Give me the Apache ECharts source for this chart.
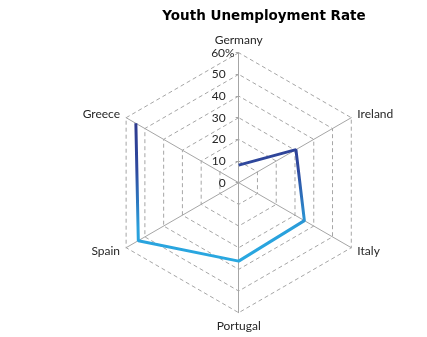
<!DOCTYPE html>
<html>
<head>
<meta charset="utf-8">
<style>
  html, body { margin: 0; padding: 0; background: #ffffff; }
  #chart { width: 427px; height: 337px; }
</style>
<script src="https://cdn.jsdelivr.net/npm/echarts@6/dist/echarts.min.js"></script>
</head>
<body>
<div id="chart"></div>
<script>
// Youth unemployment rate by country (%), clockwise from the top
const countries = ['Germany', 'Ireland', 'Italy', 'Portugal', 'Spain', 'Greece'];
const rates = [8.1, 30.5, 35.0, 36.2, 53.5, 54.8];
const tickValues = [0, 10, 20, 30, 40, 50, 60];

const AXIS_MAX = 60;
const CENTER = [238.7, 182.7];
const RADIUS = 130;
const GRID_COLOR = '#a6a6a6';
const TEXT_COLOR = '#262626';
const FONT = 'Lato, "Open Sans", sans-serif';

// The radar grid lays its indicators out counter-clockwise, so feed them
// in reverse (keeping the first one at the top) to read clockwise.
const radarOrder = [countries[0]].concat(countries.slice(1).reverse());

// Open path: country index used as the angle coordinate, no closing segment
const lineData = rates.map((v, i) => [v, i]);

const chart = echarts.init(document.getElementById('chart'), null, { renderer: 'canvas' });

chart.setOption({
  animation: false,
  backgroundColor: '#ffffff',
  title: {
    text: 'Youth Unemployment Rate',
    left: 259,
    top: 4,
    textAlign: 'center',
    textStyle: { fontFamily: '"DejaVu Sans", sans-serif', fontSize: 13.5, fontWeight: 'bold', color: '#000000' }
  },
  radar: {
    center: CENTER,
    radius: RADIUS,
    startAngle: 90,
    shape: 'polygon',
    splitNumber: tickValues.length - 1,
    indicator: radarOrder.map(name => ({ name: name, min: 0, max: AXIS_MAX })),
    nameGap: 7,
    axisName: { color: TEXT_COLOR, fontFamily: FONT, fontSize: 12 },
    axisLine: { lineStyle: { color: GRID_COLOR, width: 1 } },
    splitLine: { lineStyle: { color: GRID_COLOR, width: 1, type: [4, 3] } },
    splitArea: { show: false },
    axisTick: { show: false },
    axisLabel: { show: false }
  },
  polar: { center: CENTER, radius: RADIUS },
  angleAxis: {
    type: 'value',
    min: 0,
    max: countries.length,
    startAngle: 90,
    clockwise: true,
    show: false
  },
  radiusAxis: {
    type: 'value',
    min: tickValues[0],
    max: tickValues[tickValues.length - 1],
    interval: 10,
    axisLine: { show: false },
    axisTick: { show: true, length: 3, lineStyle: { color: GRID_COLOR } },
    splitLine: { show: false },
    axisLabel: {
      show: true,
      margin: 4,
      fontFamily: FONT,
      fontSize: 12,
      color: TEXT_COLOR,
      formatter: v => v === AXIS_MAX ? v + '{pct|%}' : v + '{gap|}',
      rich: {
        pct: { fontFamily: FONT, fontSize: 12, color: TEXT_COLOR },
        gap: { width: 9 }
      }
    }
  },
  series: [{
    type: 'line',
    coordinateSystem: 'polar',
    data: lineData,
    symbol: 'none',
    lineStyle: {
      width: 3,
      color: new echarts.graphic.LinearGradient(0, 0, 0, 1, [
        { offset: 0, color: '#2e3a8e' },
        { offset: 0.35, color: '#2f4a9f' },
        { offset: 0.75, color: '#2aa0dc' },
        { offset: 1, color: '#29a9e1' }
      ])
    },
    z: 5
  }]
});
</script>
</body>
</html>
